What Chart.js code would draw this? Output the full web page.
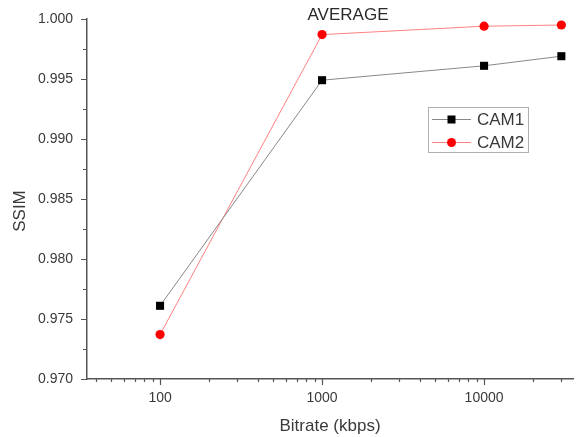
<!DOCTYPE html>
<html>
<head>
<meta charset="utf-8">
<script src="https://cdn.jsdelivr.net/npm/chart.js@4/dist/chart.umd.min.js"></script>
<style>
  body { margin: 0; background: #fff; }
  #c { display: block; }
</style>
</head>
<body>
<canvas id="c" width="581" height="437"></canvas>
<script>
const bitrates = [100, 1000, 10000, 30000];
const cam1 = [0.9761, 0.9949, 0.9961, 0.9969];
const cam2 = [0.9737, 0.9987, 0.9994, 0.9995];

const xTickValues = [40, 50, 60, 70, 80, 90, 100, 200, 300, 400, 500, 600, 700, 800, 900,
  1000, 2000, 3000, 4000, 5000, 6000, 7000, 8000, 9000, 10000, 20000, 30000];
const xTickLabels = [100, 1000, 10000];
const yTickValues = [0.970, 0.9725, 0.975, 0.9775, 0.980, 0.9825, 0.985, 0.9875,
  0.990, 0.9925, 0.995, 0.9975, 1.000];
const yTickLabels = [0.970, 0.975, 0.980, 0.985, 0.990, 0.995, 1.000];

const fontFamily = "'Liberation Sans', Arial, sans-serif";
const textColor = "#3a3a3a";
const axisColor = "#555";

function isLabelled(list, v) {
  return list.some(l => Math.abs(l - v) < 1e-7);
}

// tick marks: long for labelled ticks, short for the rest
const tickMarks = {
  id: "tickMarks",
  afterDraw(chart) {
    const ctx = chart.ctx;
    const x = chart.scales.x, y = chart.scales.y;
    ctx.save();
    ctx.strokeStyle = axisColor;
    ctx.lineWidth = 1.2;
    ctx.beginPath();
    x.ticks.forEach(t => {
      const px = Math.round(x.getPixelForValue(t.value)) + 0.5;
      const len = isLabelled(xTickLabels, t.value) ? 6 : 3;
      ctx.moveTo(px, x.top);
      ctx.lineTo(px, x.top + len);
    });
    y.ticks.forEach(t => {
      const py = Math.round(y.getPixelForValue(t.value)) + 0.5;
      const len = isLabelled(yTickLabels, t.value) ? 6 : 4;
      ctx.moveTo(y.right, py);
      ctx.lineTo(y.right - len, py);
    });
    ctx.stroke();
    ctx.restore();
  }
};

// titles and the boxed legend
const extras = {
  id: "extras",
  afterDraw(chart) {
    const ctx = chart.ctx;
    ctx.save();
    ctx.fillStyle = "#2a2a2a";
    ctx.font = "17px " + fontFamily;
    ctx.textAlign = "center";
    ctx.textBaseline = "middle";
    ctx.fillText("AVERAGE", 348, 15);

    ctx.fillStyle = textColor;
    ctx.font = "17px " + fontFamily;
    ctx.fillText("Bitrate (kbps)", 330, 426);
    ctx.save();
    ctx.translate(20, 211);
    ctx.rotate(-Math.PI / 2);
    ctx.fillText("SSIM", 0, 0);
    ctx.restore();

    ctx.strokeStyle = "#b0b0b0";
    ctx.lineWidth = 1;
    ctx.strokeRect(428.5, 107.5, 100, 45);

    const rows = [
      { label: "CAM1", y: 119.5, line: "#888", fill: "#000", style: "rect" },
      { label: "CAM2", y: 142.5, line: "#ff8080", fill: "#ff0000", style: "circle" }
    ];
    rows.forEach(r => {
      ctx.strokeStyle = r.line;
      ctx.lineWidth = 1;
      ctx.beginPath();
      ctx.moveTo(432, r.y);
      ctx.lineTo(471, r.y);
      ctx.stroke();
      ctx.fillStyle = r.fill;
      if (r.style === "rect") {
        ctx.fillRect(447.5, r.y - 4, 8, 8);
      } else {
        ctx.beginPath();
        ctx.arc(451.5, r.y, 4.5, 0, Math.PI * 2);
        ctx.fill();
      }
      ctx.fillStyle = textColor;
      ctx.font = "17px " + fontFamily;
      ctx.textAlign = "left";
      ctx.fillText(r.label, 477, r.y + 1);
    });
    ctx.restore();
  }
};

new Chart(document.getElementById("c"), {
  type: "line",
  data: {
    datasets: [
      {
        label: "CAM1",
        data: bitrates.map((b, i) => ({ x: b, y: cam1[i] })),
        borderColor: "#888",
        borderWidth: 1,
        pointStyle: "rect",
        pointRadius: 5.7,
        pointBackgroundColor: "#000",
        pointBorderColor: "#000",
        pointBorderWidth: 0,
        tension: 0
      },
      {
        label: "CAM2",
        data: bitrates.map((b, i) => ({ x: b, y: cam2[i] })),
        borderColor: "#ff8080",
        borderWidth: 1,
        pointStyle: "circle",
        pointRadius: 4.6,
        pointBackgroundColor: "#ff0000",
        pointBorderColor: "#ff0000",
        pointBorderWidth: 0,
        tension: 0
      }
    ]
  },
  options: {
    responsive: false,
    animation: false,
    layout: { padding: { top: 19, right: 8, left: 0, bottom: 0 } },
    plugins: {
      legend: { display: false },
      title: { display: false },
      tooltip: { enabled: false }
    },
    scales: {
      x: {
        type: "logarithmic",
        min: 35.4,
        max: 35400,
        afterFit: s => { s.height = 58; },
        afterBuildTicks: s => { s.ticks = xTickValues.map(v => ({ value: v })); },
        grid: { display: false, drawTicks: true, tickLength: 6 },
        border: { display: true, color: axisColor, width: 1.5 },
        ticks: {
          autoSkip: false,
          maxRotation: 0,
          padding: 5,
          color: textColor,
          font: { family: fontFamily, size: 14 },
          callback: v => isLabelled(xTickLabels, v) ? String(v) : ""
        }
      },
      y: {
        min: 0.970,
        max: 1.000,
        afterFit: s => { s.width = 87; },
        afterBuildTicks: s => { s.ticks = yTickValues.map(v => ({ value: v })); },
        grid: { display: false, drawTicks: true, tickLength: 6 },
        border: { display: true, color: axisColor, width: 1.5 },
        ticks: {
          autoSkip: false,
          padding: 8,
          color: textColor,
          font: { family: fontFamily, size: 14 },
          callback: v => isLabelled(yTickLabels, v) ? v.toFixed(3) : ""
        }
      }
    }
  },
  plugins: [tickMarks, extras]
});
</script>
</body>
</html>
